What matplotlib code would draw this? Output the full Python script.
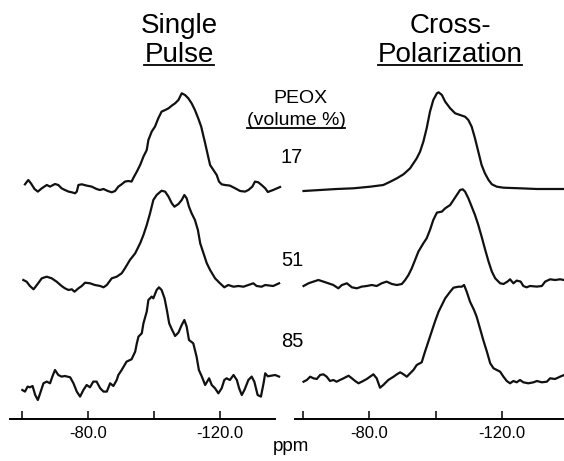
import matplotlib
matplotlib.use("Agg")
import matplotlib.pyplot as plt
from matplotlib.lines import Line2D

plt.rcParams['font.family'] = ['Liberation Sans', 'DejaVu Sans']

# ---------------- data (ppm, intensity in arbitrary units) ----------------
sp17_ppm = [-60.9, -61.9, -62.7, -63.8, -64.8, -66.0, -67.5, -68.5, -70.0, -71.0, -72.0, -73.0,
            -74.1, -75.1, -76.1, -76.6, -77.1, -78.1, -79.6, -81.1, -82.6, -83.6, -84.7, -86.0,
            -87.2, -88.2, -89.2, -90.2, -91.2, -92.2, -93.2, -93.8, -94.8, -95.8, -96.8, -97.8,
            -98.3, -99.3, -100.3, -101.3, -102.3, -103.4, -104.4, -105.4, -106.4, -107.4, -108.4,
            -109.4, -110.4, -111.4, -112.4, -113.4, -114.3, -114.9, -115.5, -116.3, -117.0, -118.0,
            -119.0, -119.7, -120.5, -121.5, -123.0, -124.6, -126.1, -127.6, -128.6, -129.8, -130.6,
            -131.6, -132.6, -133.7, -134.5, -136.1, -138.2]
sp17_int = [4.0, 8.3, 5.0, -0.7, -3.3, 0.0, 3.3, 1.7, 4.3, 3.3, 0.0, -1.7,
            -3.3, -4.0, -5.0, -3.3, 3.3, 4.0, 2.7, 1.7, -0.7, -1.7, -0.7, -2.7,
            -4.0, -2.7, 1.7, 4.0, 6.7, 7.3, 6.7, 10.7, 16.7, 23.3, 31.7, 38.3,
            48.3, 56.7, 61.7, 70.0, 76.7, 78.3, 80.0, 82.7, 85.0, 88.3, 95.0,
            93.3, 90.0, 85.0, 78.3, 70.0, 61.7, 53.3, 45.0, 33.3, 23.3, 18.3,
            13.3, 6.7, 4.0, 3.3, 2.7, 0.0, -2.7, -3.3, -1.7, 1.7, 6.7,
            6.0, 3.3, 0.0, -3.7, -1.7, 1.3]

sp51_ppm = [-60.4, -61.4, -62.4, -63.5, -64.5, -66.0, -67.5, -69.0, -70.5, -72.0, -73.0, -74.1,
            -75.1, -75.9, -77.1, -78.1, -79.1, -80.6, -82.1, -83.7, -84.7, -85.7, -87.2, -88.7,
            -90.2, -91.2, -92.7, -94.3, -95.8, -96.8, -97.8, -98.8, -99.8, -100.8, -102.3, -103.4,
            -104.4, -105.4, -106.2, -107.4, -108.4, -109.2, -109.9, -110.6, -111.4, -112.4, -113.3,
            -114.0, -115.0, -116.0, -117.0, -118.5, -120.0, -121.3, -122.5, -124.1, -125.6, -127.1,
            -128.6, -130.1, -131.1, -132.6, -133.7, -136.1, -137.9]
sp51_int = [5.0, 3.3, -1.0, -4.3, 0.0, 6.7, 8.3, 6.7, 3.3, -1.0, -3.3, -5.0,
            -4.3, -6.7, -3.3, -1.0, 2.3, 1.7, 0.0, -1.0, -2.3, 0.0, 6.7, 8.3,
            11.7, 16.7, 25.0, 31.7, 41.7, 50.0, 60.0, 71.7, 85.0, 90.0, 94.3, 93.3,
            88.3, 81.7, 78.3, 81.0, 85.0, 90.0, 86.7, 78.3, 71.7, 65.0, 55.0,
            41.7, 31.7, 21.7, 15.0, 6.7, 1.7, -2.3, 0.0, -1.7, -1.0, -1.7,
            0.0, 1.7, -1.0, -1.7, 0.0, -1.0, 1.7]

sp85_ppm = [-60.1, -60.9, -61.7, -62.4, -63.2, -64.0, -64.8, -65.5, -66.5, -67.5, -68.5, -69.2,
            -70.0, -71.0, -72.0, -73.0, -74.6, -75.6, -76.6, -77.6, -78.6, -79.6, -80.6, -81.6,
            -82.6, -83.7, -84.7, -85.7, -86.7, -87.7, -88.7, -89.2, -90.2, -91.7, -93.2, -94.3,
            -94.8, -95.3, -96.3, -96.8, -97.8, -98.3, -99.3, -99.8, -100.8, -101.5, -102.3, -103.2,
            -103.9, -104.6, -105.4, -106.4, -107.4, -108.4, -109.2, -109.9, -110.6, -111.9, -112.9,
            -113.6, -114.5, -115.5, -116.7, -117.5, -118.5, -119.5, -120.5, -121.3, -122.0, -123.0,
            -124.1, -125.1, -125.8, -126.6, -127.4, -128.6, -129.6, -130.4, -131.4, -132.4, -133.2,
            -133.7, -134.5, -136.7, -137.9]
sp85_int = [-6.7, -8.3, -3.3, -4.0, -2.7, -11.7, -16.7, -10.0, 0.0, 1.7, 0.0, 6.7,
            13.3, 8.3, 6.7, 7.3, 6.0, 0.0, -8.3, -13.3, -6.7, -1.7, -4.0, 1.7,
            1.7, -5.0, -8.3, -8.3, 0.0, -2.7, 3.3, 8.3, 13.3, 21.7, 24.0, 31.7,
            40.0, 46.7, 50.0, 60.0, 71.7, 83.3, 86.7, 85.0, 93.3, 96.0, 93.3, 85.0,
            73.3, 60.0, 54.0, 47.3, 50.7, 58.3, 63.3, 56.7, 43.3, 40.0, 26.7,
            13.3, 6.7, -1.7, 5.0, -1.7, -5.0, -10.0, -5.0, 3.3, 5.0, 3.3,
            8.3, 3.3, -5.0, -11.7, -6.7, 3.3, 6.7, 1.7, -11.7, -13.3, 0.0,
            10.0, 7.0, 8.3, 6.7]

cp17_ppm = [-60.1, -65.1, -70.1, -75.2, -80.2, -84.2, -86.3, -88.3, -90.3, -92.3, -94.3, -95.3,
            -96.3, -97.3, -98.3, -99.3, -100.4, -100.9, -101.9, -102.9, -104.4, -105.9, -107.4,
            -108.9, -109.9, -110.9, -111.9, -112.9, -113.9, -114.9, -116.0, -117.0, -118.5, -120.5,
            -125.5, -130.6, -135.6, -138.8]
cp17_int = [-2.0, -1.0, 0.0, 0.7, 2.3, 4.0, 7.3, 10.7, 14.7, 20.7, 30.7, 37.3,
            47.3, 60.7, 77.3, 89.0, 95.7, 96.7, 94.0, 87.3, 80.7, 75.7, 74.0,
            72.3, 69.0, 62.3, 50.7, 37.3, 24.0, 15.7, 9.0, 4.7, 2.3, 1.3,
            0.7, 0.0, 0.0, 0.0]

cp51_ppm = [-60.1, -61.6, -63.1, -64.6, -66.1, -67.6, -69.1, -70.6, -71.7, -73.2, -74.7, -76.2,
            -77.7, -79.2, -80.7, -82.2, -83.7, -85.2, -86.8, -88.3, -89.8, -90.8, -91.8, -92.8,
            -93.8, -94.8, -96.3, -97.3, -98.3, -99.3, -100.4, -101.9, -102.9, -104.4, -105.4,
            -106.4, -107.4, -108.2, -108.9, -109.9, -110.9, -111.9, -112.9, -113.9, -115.0, -116.0,
            -117.0, -118.0, -119.5, -120.5, -121.7, -122.5, -123.5, -124.5, -125.7, -126.5, -127.5,
            -128.5, -130.6, -132.1, -133.1, -134.6, -136.1, -137.6, -138.8]
cp51_int = [-1.7, 1.0, 2.7, 4.3, 2.7, 1.0, -0.7, -4.0, -0.7, 1.0, -3.0, -4.0,
            -2.3, -1.7, -0.7, -1.7, 1.0, 2.7, 0.3, -0.7, 0.3, 4.3, 9.3, 16.0,
            24.3, 32.7, 41.0, 46.0, 54.3, 64.3, 71.7, 72.7, 76.0, 79.3, 84.3,
            89.3, 94.3, 95.0, 92.7, 86.0, 77.7, 69.3, 59.3, 47.7, 34.3, 22.7,
            12.7, 6.0, 1.0, 0.3, 2.7, 5.0, 1.0, 3.7, 2.7, -1.7, -3.0,
            -1.7, -2.3, -1.7, 2.7, 5.0, 4.3, 5.0, 4.3]

cp85_ppm = [-60.1, -61.1, -62.1, -63.1, -64.1, -65.1, -66.1, -67.1, -68.1, -69.1, -70.1, -71.1,
            -72.2, -73.7, -74.7, -75.7, -76.7, -77.7, -79.2, -80.2, -81.2, -82.2, -83.2, -84.2,
            -85.7, -87.3, -88.3, -89.3, -90.3, -91.3, -92.3, -93.3, -94.3, -95.8, -96.8, -98.3,
            -99.8, -100.9, -101.9, -102.9, -104.4, -105.4, -106.9, -107.9, -108.6, -109.4, -110.4,
            -111.6, -112.4, -113.4, -114.4, -115.5, -116.5, -117.5, -118.5, -119.5, -120.5, -121.5,
            -122.5, -123.5, -124.5, -125.5, -126.5, -128.0, -129.6, -130.6, -132.1, -133.6, -134.6,
            -136.1, -137.6, -138.8]
cp85_int = [-2.7, -1.0, 2.3, 0.7, 0.0, 4.0, 4.7, 2.3, -2.0, -1.0, -2.7, -1.0,
            0.7, 3.3, 0.7, -2.0, -4.3, -2.7, 0.0, 2.3, 4.7, 0.7, -8.7, -6.0,
            -1.0, 2.3, 4.7, 6.7, 4.7, 2.3, 5.7, 9.0, 14.0, 16.7, 27.3, 42.3,
            57.3, 67.3, 74.0, 80.7, 87.3, 91.3, 92.3, 92.3, 94.0, 87.3, 77.3,
            69.0, 62.3, 50.7, 39.0, 27.3, 15.7, 10.7, 9.0, 7.3, 2.3, -2.0,
            -4.3, -2.0, -3.3, -1.0, -3.3, -4.3, -3.3, -2.0, -3.3, -2.7, 0.7,
            0.0, 2.3, 4.0]

peox_labels = ["17", "51", "85"]
tick_values = [-60, -80, -100, -120]
tick_labels = ["", "-80.0", "", "-120.0"]

# ---------------- layout ----------------
W, H = 564, 461
fig = plt.figure(figsize=(W / 100, H / 100), dpi=100)
fig.patch.set_facecolor('white')


def fx(x):
    return x / W


def fy(y):
    return 1 - y / H


AX_BOTTOM, AX_TOP = 419, 80
axL = fig.add_axes([fx(10), fy(AX_BOTTOM), fx(282) - fx(10), fy(AX_TOP) - fy(AX_BOTTOM)])
axR = fig.add_axes([fx(295), fy(AX_BOTTOM), fx(564) - fx(295), fy(AX_TOP) - fy(AX_BOTTOM)])

axL.set_xlim(-80 + (88 - 10) / 3.3, -80 - (282 - 88) / 3.3)
axR.set_xlim(-80 + (369.4 - 295) / 3.31, -80 - (564 - 369.4) / 3.31)

left_offsets = [230.7, 134.0, 35.7]
right_offsets = [230.0, 134.7, 40.0]

left_series = [(sp17_ppm, sp17_int), (sp51_ppm, sp51_int), (sp85_ppm, sp85_int)]
right_series = [(cp17_ppm, cp17_int), (cp51_ppm, cp51_int), (cp85_ppm, cp85_int)]

for ax, series, offs in [(axL, left_series, left_offsets), (axR, right_series, right_offsets)]:
    ax.set_ylim(0, AX_BOTTOM - AX_TOP)
    for (p, v), o in zip(series, offs):
        ax.plot(p, [val + o for val in v], color='#111111', lw=1.6, solid_joinstyle='round',
                clip_on=False)
    ax.set_facecolor('none')
    for s in ['top', 'left', 'right']:
        ax.spines[s].set_visible(False)
    ax.spines['bottom'].set_linewidth(1.4)
    ax.set_yticks([])
    ax.set_xticks(tick_values)
    ax.set_xticklabels(tick_labels)
    ax.tick_params(axis='x', direction='in', length=5.5, width=1.1, pad=5, labelsize=12)

axL.spines['bottom'].set_bounds(-56.4, -136.7)

# ---------------- texts ----------------
def txt(x, y, s, size):
    return fig.text(fx(x), fy(y), s, ha='center', va='baseline', fontsize=size, color='black')


txt(179, 33, "Single", 20)
t_pulse = txt(179, 61.5, "Pulse", 20)
txt(450, 33, "Cross-", 20)
t_pol = txt(450, 61.5, "Polarization", 20)
txt(300, 103, "PEOX", 14)
t_vol = txt(296, 125, "(volume %)", 14)
for lab, yb in zip(peox_labels, [163, 266, 347]):
    txt(292, yb, lab, 14.5)
txt(291, 451, "ppm", 13.5)

fig.canvas.draw()
renderer = fig.canvas.get_renderer()
for t, yl in [(t_pulse, 65), (t_pol, 65), (t_vol, 128)]:
    bb = t.get_window_extent(renderer)
    fig.add_artist(Line2D([bb.x0 / W, bb.x1 / W], [fy(yl), fy(yl)], transform=fig.transFigure,
                          color='black', lw=1.3))

fig.savefig("out.png", dpi=100, facecolor='white')
